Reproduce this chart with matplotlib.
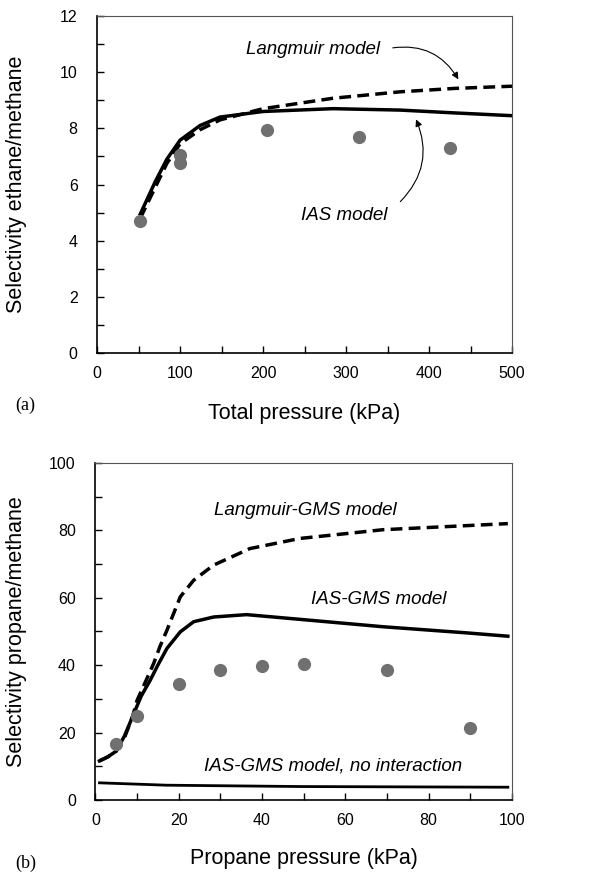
import numpy as np
import matplotlib
matplotlib.use("Agg")
import matplotlib.pyplot as plt
from matplotlib.ticker import MultipleLocator

plt.rcParams['font.family'] = ['Liberation Sans', 'DejaVu Sans']

# ---- Panel (a) data ----
a_exp_x = [52, 100, 100, 205, 315, 425]
a_exp_y = [4.7, 7.05, 6.75, 7.95, 7.7, 7.3]
a_ias_x = [52, 70, 84, 100, 124, 148, 200, 284, 365, 430, 500]
a_ias_y = [4.95, 6.1, 6.9, 7.58, 8.1, 8.4, 8.6, 8.7, 8.65, 8.55, 8.45]
a_lang_x = [52, 70, 84, 100, 124, 148, 200, 284, 365, 430, 500]
a_lang_y = [4.8, 5.9, 6.75, 7.45, 7.95, 8.3, 8.7, 9.07, 9.3, 9.42, 9.5]

# ---- Panel (b) data ----
b_exp_x = [5, 10, 20, 30, 40, 50, 70, 90]
b_exp_y = [16.6, 24.9, 34.4, 38.7, 39.8, 40.4, 38.6, 21.4]
b_ias_x = [1, 3, 5, 7, 9.2, 11, 13.2, 15, 17.2, 20.4, 23.6, 28.4, 36.3, 49.1, 69.1, 89, 99]
b_ias_y = [11.6, 12.8, 14.5, 19, 25.5, 30.8, 35.6, 40, 45.0, 49.9, 52.9, 54.3, 55.0, 53.6, 51.4, 49.6, 48.6]
b_lang_x = [1, 3, 5, 7, 9, 10, 12, 14, 15.5, 17.2, 20.4, 23.6, 28.4, 37.1, 49.1, 69.1, 99]
b_lang_y = [11.6, 12.8, 14.5, 18.5, 25, 29.5, 35, 40.5, 45.5, 50.4, 60.3, 65.2, 69.7, 74.6, 77.6, 80.2, 82.0]
b_noint_x = [1, 17, 49, 99]
b_noint_y = [5.1, 4.4, 4.0, 3.8]

fig = plt.figure(figsize=(6.11, 8.73), dpi=100)

ax1 = fig.add_axes([0.159, 0.5956, 0.679, 0.3861])
ax2 = fig.add_axes([0.156, 0.0836, 0.682, 0.3861])

pt_color = '#707070'
dash = (0, (3.4, 1.8))

def style(ax):
    for s in ['left', 'bottom']:
        ax.spines[s].set_linewidth(1.2)
    for s in ['top', 'right']:
        ax.spines[s].set_linewidth(0.8)
        ax.spines[s].set_color('#555555')
    ax.tick_params(which='both', direction='in', length=5, width=1,
                   top=False, right=False, labelsize=11.5)
    ax.tick_params(axis='x', pad=9)
    ax.tick_params(axis='y', pad=14)

# Panel (a)
ax1.plot(a_lang_x, a_lang_y, color='black', lw=2.5, ls=dash)
ax1.plot(a_ias_x, a_ias_y, color='black', lw=2.5)
ax1.plot(a_exp_x, a_exp_y, 'o', color=pt_color, ms=8.5, zorder=5)
ax1.set_xlim(0, 500)
ax1.set_ylim(0, 12)
ax1.xaxis.set_major_locator(MultipleLocator(100))
ax1.xaxis.set_minor_locator(MultipleLocator(50))
ax1.yaxis.set_major_locator(MultipleLocator(2))
ax1.yaxis.set_minor_locator(MultipleLocator(1))
style(ax1)
ax1.set_xlabel('Total pressure (kPa)', fontsize=15.5)
ax1.set_ylabel('Selectivity ethane/methane', fontsize=15.5)
ax1.xaxis.set_label_coords(0.5, -0.148)
ax1.yaxis.set_label_coords(-0.169, 0.5)
ax1.text(260, 10.8, 'Langmuir model', style='italic', fontsize=13.5,
         ha='center', va='center')
ax1.annotate('', xy=(437, 9.66), xytext=(353, 10.85),
             arrowprops=dict(arrowstyle='-|>', color='black', lw=0.8,
                             connectionstyle='arc3,rad=-0.35',
                             mutation_scale=10))
ax1.text(298, 4.9, 'IAS model', style='italic', fontsize=13.5,
         ha='center', va='center')
ax1.annotate('', xy=(383, 8.41), xytext=(363, 5.32),
             arrowprops=dict(arrowstyle='-|>', color='black', lw=0.8,
                             connectionstyle='arc3,rad=0.35',
                             mutation_scale=10))
fig.text(15 / 611, 1 - 405 / 873, '(a)', family='Liberation Serif',
         fontsize=13, ha='left', va='center')

# Panel (b)
ax2.plot(b_lang_x, b_lang_y, color='black', lw=2.5, ls=dash)
ax2.plot(b_ias_x, b_ias_y, color='black', lw=2.5)
ax2.plot(b_noint_x, b_noint_y, color='black', lw=2.0)
ax2.plot(b_exp_x, b_exp_y, 'o', color=pt_color, ms=8.5, zorder=5)
ax2.set_xlim(0, 100)
ax2.set_ylim(0, 100)
ax2.xaxis.set_major_locator(MultipleLocator(20))
ax2.xaxis.set_minor_locator(MultipleLocator(10))
ax2.yaxis.set_major_locator(MultipleLocator(20))
ax2.yaxis.set_minor_locator(MultipleLocator(10))
style(ax2)
ax2.set_xlabel('Propane pressure (kPa)', fontsize=15.5)
ax2.set_ylabel('Selectivity propane/methane', fontsize=15.5)
ax2.xaxis.set_label_coords(0.5, -0.142)
ax2.yaxis.set_label_coords(-0.163, 0.5)
ax2.text(50.3, 86, 'Langmuir-GMS model', style='italic', fontsize=13.5,
         ha='center', va='center')
ax2.text(67.9, 59.5, 'IAS-GMS model', style='italic', fontsize=13.5,
         ha='center', va='center')
ax2.text(57.1, 10.1, 'IAS-GMS model, no interaction', style='italic',
         fontsize=13.5, ha='center', va='center')
fig.text(15 / 611, 1 - 863 / 873, '(b)', family='Liberation Serif',
         fontsize=13, ha='left', va='center')

fig.savefig('out.png', dpi=100)
